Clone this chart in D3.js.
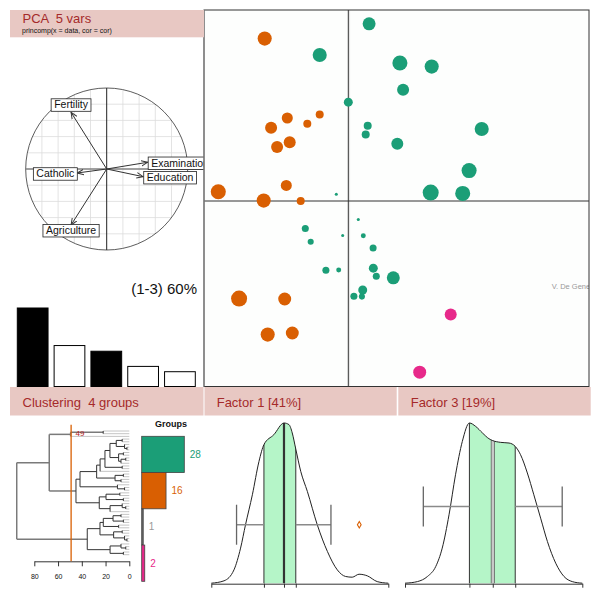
<!DOCTYPE html>
<html><head><meta charset="utf-8">
<script src="https://cdn.jsdelivr.net/npm/d3@7"></script>
<style>
body{margin:0;background:#fff}
svg{display:block;font-family:"Liberation Sans",Arial,Helvetica,sans-serif}
</style>
</head><body>
<svg id="c" width="600" height="600"></svg>
<script>
// ---------------- DATA ----------------
const panelTitles = ["PCA  5 vars", "Clustering  4 groups", "Factor 1 [41%]", "Factor 3 [19%]"];
const subTitle = "princomp(x = data, cor = cor)";
const varNames = ["Fertility", "Examination", "Education", "Catholic", "Agriculture"];
const loadX = [-0.44, 0.506, 0.451, -0.363, -0.44];
const loadY = [0.70, 0.083, -0.095, -0.049, -0.691];
const eigenvalues = [2.07, 1.08, 0.93, 0.53, 0.39];
const selectedFactors = [1, 3];
const explainedLabel = "(1-3) 60%";
const creditText = "V. De Gene";

const scoreX = [-0.715,0.0,-0.30,0.52,1.29,1.37,0.485,0.435,1.225,2.085,3.335,3.02,2.06,2.86,0.25,-0.14,-1.075,-0.94,0.375,0.62,-0.56,-0.24,0.625,0.70,1.125,0.36,0.14,0.34,
  -2.09,-1.525,-0.715,-1.025,-1.93,-1.465,-1.78,-1.55,-3.25,-2.115,-1.19,-2.73,-1.59,-2.015,-1.40,
  2.56,1.785];
const scoreY = [3.65,2.47,0.17,4.43,3.45,2.78,1.88,1.66,1.43,3.36,1.80,0.76,0.21,0.19,-0.46,-0.86,-0.69,-1.02,-0.87,-1.175,-1.73,-1.725,-1.68,-1.88,-1.92,-2.225,-2.38,-2.39,
  4.06,2.075,2.16,1.93,1.83,1.47,1.35,0.39,0.23,0.01,0.0,-2.44,-2.45,-3.34,-3.30,
  -2.84,-4.28];
const scoreGroup = [0,0,0,0,0,0,0,0,0,0,0,0,0,0,0,0,0,0,0,0,0,0,0,0,0,0,0,0,
  1,1,1,1,1,1,1,1,1,1,1,1,1,1,1,
  3,3];
const scoreQuality = [0.88,0.56,0.19,0.81,0.94,0.75,0.5,0.5,0.75,0.88,0.88,0.94,1.0,0.94,0.19,0.19,0.44,0.38,0.31,0.44,0.44,0.31,0.56,0.44,0.81,0.56,0.44,0.38,
  0.88,0.69,0.5,0.5,0.75,0.75,0.75,0.69,0.94,0.88,0.5,1.0,0.81,0.88,0.81,
  0.75,0.81];

const groupCounts = [28, 16, 1, 2];
const groupColors = ["#1B9E77", "#D95F02", "#666666", "#E7298A"];
const cutHeight = 49;
const dendroTicks = [80, 60, 40, 20, 0];
// dendrogram: node = [height, left, right], leaf = 0
const dendrogram = [94.8,
  [67.4,
    [49.4, [22, 0, 0], 0],
    [44.9,
      [41.5,
        [27.5,
          [24.6,
            [20.5,
              [16.3, [11, [6,0,0], [4,0,[2,0,0]]], [9, [5,0,0], [7,[3,0,0],0]]],
              [6,0,0]],
            0],
          [12, [5,0,0], [7,0,0]]],
        [10, 0, [4,0,0]]],
      [25.3, [19.6, [8,0,0], [5,0,0]], [16.2, [6,0,[3,0,0]], 0]]]],
  [35.4,
    [24.7,
      [21.9, [13.7, [7,0,0], [5,0,0]], [9,0,0]],
      [13.2, [6,0,0], [4,0,[2,0,0]]]],
    [16.2, [7,0,[3,0,0]], [5,0,0]]]];

const f1DensX = [-3.0,-2.46,-2.04,-1.76,-1.55,-1.26,-0.98,-0.77,-0.35,0.08,0.29,0.43,0.57,0.79,1.07,1.49,1.92,2.34,2.69,2.97,3.26,3.61,4.03,4.5];
const f1DensY = [0,0.015,0.083,0.219,0.365,0.552,0.76,0.865,0.927,1.0,0.99,0.938,0.844,0.698,0.573,0.365,0.198,0.083,0.042,0.0375,0.056,0.046,0.01,0];
const f1Stats = [-3.0, -0.77, 0.08, 0.58, 4.5];   // axis start, Q1, median, Q3, axis end
const f1Whisk = [-1.93, 2.07];
const f1Outliers = [3.27];

const f3DensX = [-3,-2.58,-2.24,-1.96,-1.74,-1.51,-1.29,-1.06,-0.82,-0.61,-0.38,-0.16,-0.03,0.24,0.52,0.73,0.91,1.14,1.36,1.59,1.82,2.10,2.38,2.66,3.0];
const f3DensY = [0,0.010,0.042,0.104,0.219,0.427,0.677,0.885,1.0,0.979,0.938,0.902,0.890,0.879,0.875,0.854,0.802,0.688,0.552,0.406,0.260,0.125,0.042,0.010,0];
const f3Stats = [-3.0, -0.82, -0.03, 0.73, 3.0];
const f3Whisk = [-2.38, 2.32];
const f3Outliers = [];

// ---------------- DRAW ----------------
const svg = d3.select("#c");
const defs = svg.append("defs");
const BAND = "#E8C8C3", TITLE = "#A52A2A";

// ===== Circle of correlations =====
const cx = 106.7, cy = 169, R = 81;
const cX = d3.scaleLinear().domain([-1, 1]).range([cx - R, cx + R]);
const cY = d3.scaleLinear().domain([-1, 1]).range([cy + R, cy - R]);
const gridVals = [-0.8, -0.6, -0.4, -0.2, 0.2, 0.4, 0.6, 0.8];
const gC = svg.append("g");
gridVals.forEach(v => {
  const h = Math.sqrt(1 - v * v);
  gC.append("line").attr("x1", cX(v)).attr("x2", cX(v)).attr("y1", cY(h)).attr("y2", cY(-h))
    .attr("stroke", "#dcdcdc").attr("stroke-width", 0.8);
  gC.append("line").attr("y1", cY(v)).attr("y2", cY(v)).attr("x1", cX(-h)).attr("x2", cX(h))
    .attr("stroke", "#dcdcdc").attr("stroke-width", 0.8);
});
gC.append("circle").attr("cx", cX(0)).attr("cy", cY(0)).attr("r", cX(1) - cX(0))
  .attr("fill", "none").attr("stroke", "#333").attr("stroke-width", 0.8);
gC.append("line").attr("x1", cX(-1)).attr("x2", 204).attr("y1", cY(0)).attr("y2", cY(0))
  .attr("stroke", "#808080").attr("stroke-width", 1.6);
gC.append("line").attr("x1", cX(0)).attr("x2", cX(0)).attr("y1", cY(1)).attr("y2", cY(-1))
  .attr("stroke", "#222").attr("stroke-width", 1);

defs.append("marker").attr("id", "arr").attr("viewBox", "0 0 8 8").attr("refX", 7.5).attr("refY", 4)
  .attr("markerWidth", 7).attr("markerHeight", 7).attr("markerUnits", "userSpaceOnUse").attr("orient", "auto")
  .append("path").attr("d", "M0,0.8 L7.5,4 L0,7.2").attr("fill", "none").attr("stroke", "#333").attr("stroke-width", 1.1);

varNames.forEach((name, i) => {
  const tx = cX(loadX[i]), ty = cY(loadY[i]);
  gC.append("line").attr("x1", cX(0)).attr("y1", cY(0)).attr("x2", tx).attr("y2", ty)
    .attr("stroke", "#333").attr("stroke-width", 1).attr("marker-end", "url(#arr)");
});
varNames.forEach((name, i) => {
  const tx = cX(loadX[i]), ty = cY(loadY[i]);
  const g = gC.append("g");
  const rect = g.append("rect").attr("fill", "#fff").attr("stroke", "#222").attr("stroke-width", 0.8);
  const t = g.append("text").text(name).attr("font-size", 10.5).attr("fill", "#111");
  const w = t.node().getComputedTextLength() + 6, h = 12.5;
  let bx, by;
  if (Math.abs(loadY[i]) > Math.abs(loadX[i])) {
    bx = tx - w / 2;
    by = loadY[i] > 0 ? ty - h - 1 : ty - 0.5;
  } else {
    bx = loadX[i] > 0 ? tx + 0.5 : tx - w;
    by = ty - h / 2 + 1;
  }
  rect.attr("x", bx).attr("y", by).attr("width", w).attr("height", h);
  t.attr("x", bx + 3).attr("y", by + h - 3);
});

// ===== Scree plot =====
const sX = d3.scaleBand().domain(eigenvalues.map((d, i) => i + 1)).range([17.3, 195.3]).paddingInner(0.165).paddingOuter(0);
const sY = d3.scaleLinear().domain([0, d3.max(eigenvalues)]).range([386.5, 308]);
svg.append("g").selectAll("rect").data(eigenvalues).join("rect")
  .attr("x", (d, i) => sX(i + 1)).attr("width", sX.bandwidth())
  .attr("y", d => sY(d)).attr("height", d => sY(0) - sY(d))
  .attr("fill", (d, i) => selectedFactors.includes(i + 1) ? "#000" : "#fff")
  .attr("stroke", "#000").attr("stroke-width", 1);
svg.append("text").attr("x", 197).attr("y", 293.5).attr("text-anchor", "end")
  .attr("font-size", 15).attr("fill", "#111").text(explainedLabel);

// ===== Scatter =====
const P = {x0: 204, x1: 589, y0: 10, y1: 386.5};
const pX = d3.scaleLinear().domain([-3.6075, 6.0175]).range([P.x0, P.x1]);
const pY = d3.scaleLinear().domain([-4.6375, 4.775]).range([P.y1, P.y0]);
const rS = d3.scaleLinear().domain([0, 1]).range([0, 8]);
defs.append("clipPath").attr("id", "scClip").append("rect")
  .attr("x", P.x0).attr("y", P.y0).attr("width", P.x1 - P.x0).attr("height", P.y1 - P.y0);
const gS = svg.append("g");
gS.append("rect").attr("x", P.x0).attr("y", P.y0).attr("width", P.x1 - P.x0).attr("height", P.y1 - P.y0)
  .attr("fill", "#fdfefd");
const gSc = gS.append("g").attr("clip-path", "url(#scClip)");
gSc.append("line").attr("x1", pX(0)).attr("x2", pX(0)).attr("y1", P.y0).attr("y2", P.y1).attr("stroke", "#333");
gSc.append("line").attr("x1", pX(0) + 1.3).attr("x2", pX(0) + 1.3).attr("y1", P.y0).attr("y2", P.y1).attr("stroke", "#e4e4e4");
gSc.append("line").attr("y1", pY(0)).attr("y2", pY(0)).attr("x1", P.x0).attr("x2", P.x1).attr("stroke", "#333");
gSc.append("text").attr("x", 551.7).attr("y", 289).attr("font-size", 7.5).attr("fill", "#9a9a9a").text(creditText);
gSc.selectAll("circle").data(scoreX).join("circle")
  .attr("cx", d => pX(d)).attr("cy", (d, i) => pY(scoreY[i]))
  .attr("r", (d, i) => rS(scoreQuality[i]))
  .attr("fill", (d, i) => groupColors[scoreGroup[i]]);
gS.append("rect").attr("x", P.x0).attr("y", P.y0).attr("width", P.x1 - P.x0).attr("height", P.y1 - P.y0)
  .attr("fill", "none").attr("stroke", "#333").attr("stroke-width", 1);
gS.append("line").attr("x1", P.x0).attr("x2", P.x0).attr("y1", P.y0).attr("y2", P.y1).attr("stroke", "#888").attr("stroke-width", 1.2);

// ===== Header bands =====
const bands = [
  {x: 10, y: 10, w: 194, h: 27.3, tx: 22.5, ty: 22.8},
  {x: 10, y: 387, w: 193.5, h: 28.5, tx: 22.5, ty: 407},
  {x: 204.5, y: 387, w: 192.2, h: 28.5, tx: 216.7, ty: 407.3},
  {x: 398.3, y: 387, w: 192.4, h: 28.5, tx: 410.7, ty: 407.3}
];
bands.forEach((b, i) => {
  svg.append("rect").attr("x", b.x).attr("y", b.y).attr("width", b.w).attr("height", b.h).attr("fill", BAND);
  svg.append("text").attr("x", b.tx).attr("y", b.ty).attr("font-size", 13).attr("fill", TITLE)
    .style("white-space", "pre").text(panelTitles[i]);
});
svg.append("text").attr("x", 22).attr("y", 33.3).attr("font-size", 7).attr("fill", "#111").text(subTitle);

// ===== Dendrogram =====
const root = d3.hierarchy(dendrogram, d => Array.isArray(d) ? [d[1], d[2]] : null);
const leaves = root.leaves();
const dY = d3.scalePoint().domain(d3.range(leaves.length)).range([431, 554.7]);
const dX = d3.scaleLinear().domain([0, 80]).range([129.3, 34.3]);
leaves.forEach((l, i) => { l.pos = dY(i); });
root.eachAfter(n => {
  n.h = Array.isArray(n.data) ? n.data[0] : 0;
  if (n.children) n.pos = (n.children[0].pos + n.children[1].pos) / 2;
});
const gD = svg.append("g");
const segs = [];
root.each(n => {
  if (!n.children) return;
  const above = n.h > cutHeight;
  const col = above ? "#7a7a7a" : "#333";
  const sw = above ? 1.5 : 1;
  segs.push({x1: dX(n.h), x2: dX(n.h), y1: n.children[0].pos, y2: n.children[1].pos, c: col, w: sw, o: 1});
  n.children.forEach(ch => {
    const leaf = !ch.children;
    segs.push({x1: dX(n.h), x2: dX(ch.h), y1: ch.pos, y2: ch.pos,
      c: leaf ? "#c4c4c4" : col, w: leaf ? 1 : sw, o: leaf ? 0 : 1});
  });
});
segs.sort((a, b) => a.o - b.o);
gD.selectAll("line").data(segs).join("line")
  .attr("x1", d => d.x1).attr("x2", d => d.x2).attr("y1", d => d.y1).attr("y2", d => d.y2)
  .attr("stroke", d => d.c).attr("stroke-width", d => d.w);
const dAxis = gD.append("g").attr("transform", "translate(0,561.3)")
  .call(d3.axisBottom(dX).tickValues(dendroTicks).tickSize(5).tickSizeOuter(0).tickPadding(8));
dAxis.select(".domain").attr("stroke", "#333");
dAxis.selectAll(".tick line").attr("stroke", "#333");
dAxis.selectAll("text").attr("font-size", 7).attr("fill", "#111").attr("font-family", "inherit");
gD.append("line").attr("x1", dX(cutHeight)).attr("x2", dX(cutHeight)).attr("y1", 424.7).attr("y2", 561.3)
  .attr("stroke", "#D95F02").attr("stroke-width", 1.3);
gD.append("text").attr("x", dX(cutHeight) + 4.5).attr("y", 435.5).attr("font-size", 8).attr("fill", "#B22222")
  .text(String(cutHeight));

// Group bars
const gbY = d3.scaleBand().domain(d3.range(groupCounts.length)).range([436.3, 581.3]).padding(0);
const gbX = d3.scaleLinear().domain([0, 28]).range([141.7, 184.3]);
const gG = svg.append("g");
gG.selectAll("rect").data(groupCounts).join("rect")
  .attr("x", gbX(0)).attr("y", (d, i) => gbY(i)).attr("width", d => gbX(d) - gbX(0)).attr("height", gbY.bandwidth())
  .attr("fill", (d, i) => groupColors[i]).attr("stroke", "#444").attr("stroke-width", 0.8);
gG.selectAll("text.cnt").data(groupCounts).join("text").attr("class", "cnt")
  .attr("x", d => gbX(d) + 5.5).attr("y", (d, i) => gbY(i) + gbY.bandwidth() / 2 + 3.5)
  .attr("font-size", 10).attr("fill", (d, i) => i === 2 ? "#999" : groupColors[i]).text(d => d);
gG.append("text").attr("x", 171).attr("y", 426.5).attr("text-anchor", "middle").attr("font-size", 9)
  .attr("font-weight", "bold").attr("fill", "#111").text("Groups");

// ===== Factor density panels =====
function densityPanel(id, xr, densX, densY, stats, whisk, outs, wLevel, medStyle) {
  const x = d3.scaleLinear().domain([stats[0], stats[4]]).range(xr);
  const y = d3.scaleLinear().domain([0, 1]).range([583.2, 423]);
  const pts = densX.map((v, i) => [v, densY[i]]);
  const area = d3.area().x(d => x(d[0])).y0(y(0)).y1(d => y(d[1])).curve(d3.curveMonotoneX);
  const line = d3.line().x(d => x(d[0])).y(d => y(d[1])).curve(d3.curveMonotoneX);
  defs.append("clipPath").attr("id", id).append("path").attr("d", area(pts));
  const g = svg.append("g");
  const gc = g.append("g").attr("clip-path", `url(#${id})`);
  gc.append("rect").attr("x", x(stats[1])).attr("width", x(stats[3]) - x(stats[1]))
    .attr("y", 410).attr("height", 180).attr("fill", "#B5F5C8");
  [stats[1], stats[3]].forEach(v => gc.append("line").attr("x1", x(v)).attr("x2", x(v)).attr("y1", 410).attr("y2", 590)
    .attr("stroke", "#333").attr("stroke-width", 1));
  if (medStyle === "dark") {
    gc.append("line").attr("x1", x(stats[2])).attr("x2", x(stats[2])).attr("y1", 410).attr("y2", 590)
      .attr("stroke", "#333").attr("stroke-width", 2.2);
  } else {
    gc.append("rect").attr("x", x(stats[2]) - 1.6).attr("width", 3.2).attr("y", 410).attr("height", 180)
      .attr("fill", "#c8c8c8").attr("stroke", "#555").attr("stroke-width", 0.7);
  }
  g.append("path").attr("d", line(pts)).attr("fill", "none").attr("stroke", "#222").attr("stroke-width", 1);
  // whiskers
  const wy = y(wLevel), cap = 20;
  const wc = "#8a8a8a";
  g.append("line").attr("x1", x(whisk[0])).attr("x2", x(stats[1])).attr("y1", wy).attr("y2", wy).attr("stroke", wc).attr("stroke-width", 1.5);
  g.append("line").attr("x1", x(stats[3])).attr("x2", x(whisk[1])).attr("y1", wy).attr("y2", wy).attr("stroke", wc).attr("stroke-width", 1.5);
  whisk.forEach(v => g.append("line").attr("x1", x(v)).attr("x2", x(v)).attr("y1", wy - cap).attr("y2", wy + cap)
    .attr("stroke", "#666").attr("stroke-width", 1.3));
  outs.forEach(v => g.append("path").attr("d", d3.symbol(d3.symbolDiamond, 12)())
    .attr("transform", `translate(${x(v)},${wy})`).attr("fill", "#fff").attr("stroke", "#D95F02").attr("stroke-width", 1.1));
  const ax = g.append("g").attr("transform", "translate(0,583.7)")
    .call(d3.axisBottom(x).tickValues(stats).tickSize(4).tickSizeOuter(0).tickFormat(""));
  ax.select(".domain").attr("stroke", "#333");
  ax.selectAll(".tick line").attr("stroke", "#333");
}
densityPanel("f1c", [211.3, 388.3], f1DensX, f1DensY, f1Stats, f1Whisk, f1Outliers, 0.365, "dark");
densityPanel("f3c", [405, 582.3], f3DensX, f3DensY, f3Stats, f3Whisk, f3Outliers, 0.479, "light");
</script>
</body></html>
